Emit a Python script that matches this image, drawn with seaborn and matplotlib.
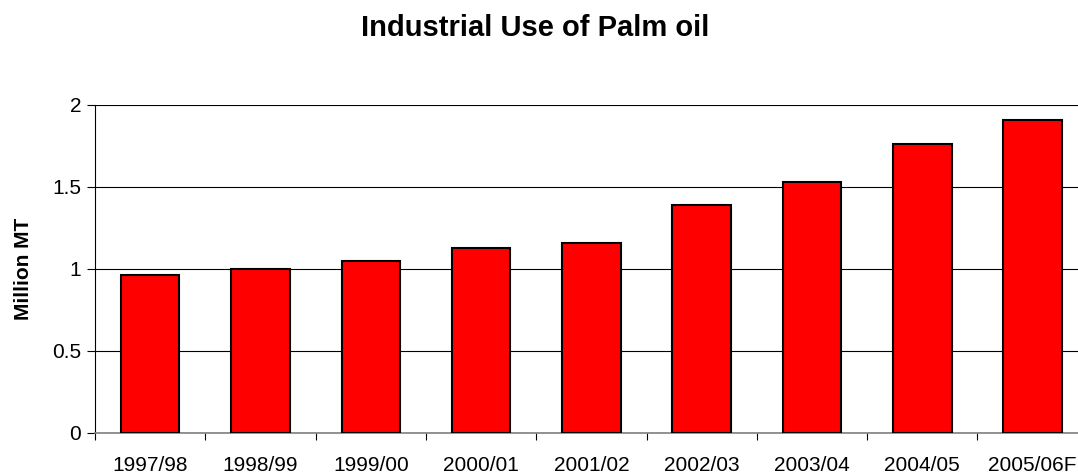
import matplotlib
matplotlib.use("Agg")
import matplotlib.pyplot as plt
import seaborn as sns
import pandas as pd

# Data
seasons = ['1997/98', '1998/99', '1999/00', '2000/01', '2001/02',
           '2002/03', '2003/04', '2004/05', '2005/06F']
usage = [0.96, 1.0, 1.05, 1.125, 1.155, 1.39, 1.53, 1.76, 1.905]

df = pd.DataFrame({'season': seasons, 'usage': usage})

sns.set_style('white')
plt.rcParams['font.family'] = ['Liberation Sans', 'DejaVu Sans']
plt.rcParams['text.color'] = 'black'
plt.rcParams['axes.labelcolor'] = 'black'
plt.rcParams['xtick.color'] = 'black'
plt.rcParams['ytick.color'] = 'black'

fig = plt.figure(figsize=(10.78, 4.74), dpi=100)
# plot area runs slightly past the right edge, as in the original
ax = fig.add_axes([0.0881, 0.087, 0.921, 0.692])

sns.barplot(data=df, x='season', y='usage', color='#ff0000', saturation=1,
            width=0.53, edgecolor='black', linewidth=1.5, ax=ax, zorder=3)

ax.set_ylim(0, 2)
ax.set_xlim(-0.5, len(seasons) - 0.5)
ax.set_yticks([0, 0.5, 1, 1.5, 2])
ax.set_yticklabels(['0', '0.5', '1', '1.5', '2'])
ax.yaxis.grid(True, color='black', linewidth=0.8)
ax.set_axisbelow(True)

# ticks between categories on x
ax.set_xticks(range(len(seasons)))
ax.set_xticklabels(seasons)
ax.set_xticks([i - 0.5 for i in range(len(seasons) + 1)], minor=True)
ax.tick_params(axis='x', which='major', bottom=True, length=0, pad=17, labelsize=15)
ax.tick_params(axis='x', which='minor', bottom=True, length=5, width=0.8,
               color='black', direction='out')
ax.tick_params(axis='y', left=True, length=6, width=0.8, color='black',
               direction='out', labelsize=15, pad=4)

for side in ['top', 'right']:
    ax.spines[side].set_visible(False)
ax.spines['left'].set_color('black')
ax.spines['left'].set_linewidth(0.8)
ax.spines['bottom'].set_color('#808080')
ax.spines['bottom'].set_linewidth(1.2)

ax.set_xlabel('')
ax.set_ylabel('Million MT', fontsize=15, fontweight='bold', labelpad=14)
fig.text(0.496, 0.924, 'Industrial Use of Palm oil', ha='center', va='baseline',
         fontsize=21, fontweight='bold')

fig.savefig('out.png', dpi=100)
